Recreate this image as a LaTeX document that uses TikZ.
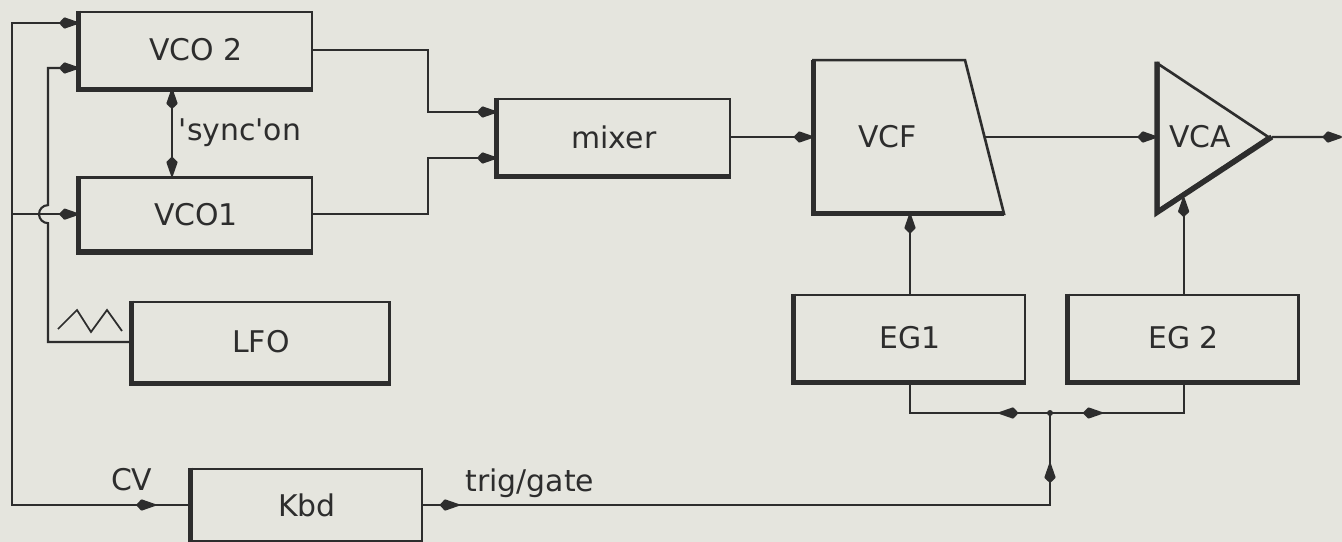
\documentclass[tikz,border=0pt]{standalone}
\usepackage{fontspec}
\setmainfont{DejaVu Sans}
\usepackage{xcolor}
\usepackage{tikz}
\usetikzlibrary{arrows.meta,positioning,shapes.geometric,calc,decorations.markings}

\definecolor{paper}{RGB}{229,229,222}
\definecolor{ink}{RGB}{45,45,45}

\begin{document}
\begin{tikzpicture}[
  x=0.2mm, y=-0.2mm,
  font=\fontsize{17}{20}\selectfont, text=ink,
  >={Kite[length=4.4mm,width=2.3mm,inset=1.1mm,round]},
  outline/.style={draw=ink, line width=1.5pt},
  box/.style={outline, fill=paper, align=center, minimum width=46.4mm, minimum height=15.2mm},
  heavy/.style={draw=ink, line width=3pt},
  wire/.style={draw=ink, line width=1.2pt},
  arrow/.style={wire, ->},
  midarrow/.style={postaction={decorate, decoration={markings, mark=at position #1 with {\arrow{>}}}}},
  backarrow/.style={postaction={decorate, decoration={markings, mark=at position #1 with {\arrowreversed{>}}}}}
]
\fill[paper] (0,0) rectangle (1342,542);
\useasboundingbox (0,0) rectangle (1342,542);

\node[box] (vco2) at (196,50) {VCO 2};
\node[box, minimum height=14.6mm, below=17.4mm of vco2] (vco1) {VCO1};
\node[box, minimum width=51.4mm, minimum height=16mm] (lfo) at (261,342) {LFO};
\node[box, minimum width=46mm, minimum height=14.4mm] (kbd) at (307,505) {Kbd};
\node[box] (mixer) at (614,137) {mixer};
\node[inner sep=0pt, minimum width=38mm, minimum height=30.6mm, right=16.4mm of mixer] (vcf) {\hspace*{-8.4mm}VCF};
\node[isosceles triangle, outline, fill=paper, isosceles triangle stretches,
  minimum width=29.2mm, minimum height=22mm, inner sep=0pt, anchor=west] (vca) at (1157,137) {VCA};
\node[box, minimum width=46mm, minimum height=17.2mm] (eg1) at (910,338) {EG1};
\node[box, minimum width=46mm, minimum height=17.2mm, right=8.2mm of eg1] (eg2) {EG 2};

\coordinate (cvc) at (12,505);
\coordinate (in2a) at ([yshift=5.4mm]vco2.west);
\coordinate (in2b) at ([yshift=-3.6mm]vco2.west);
\coordinate (lfoc) at (48,342);
\coordinate (tg) at (1050,413);
\coordinate (out) at (1342,137);
\coordinate (vcfout) at ([xshift=-3.9mm]vcf.east);
\coordinate (vcacv) at ($(vca.right corner)!.2!(vca.apex)$);

\draw[outline] (vcf.north west) -- ([xshift=-7.8mm]vcf.north east) -- (vcf.south east) -- (vcf.south west) -- cycle;
\foreach \n in {vco2,vco1,lfo,kbd,mixer,eg1,eg2,vcf}
  \draw[heavy] (\n.north west) -- (\n.south west) -- (\n.south east);
\draw[heavy] (vca.left corner) -- (vca.right corner) -- (vca.apex);

\draw[arrow, backarrow=.048] (kbd.west) -- node[above, pos=.33, yshift=1.4mm]{CV} (cvc) |- (in2a);
\draw[arrow] (cvc |- vco1.west) -- (vco1.west);
\draw[arrow] (lfo.west) -- (lfoc) -- ($(lfoc |- vco1.west)+(0,9)$) arc[start angle=90, end angle=270, radius=9] -- (lfoc |- in2b) -- (in2b);
\draw[wire, line width=1pt] (58,329) -- (77,310) -- (91,332) -- (107,310) -- (122,331);
\draw[wire, <->] ([xshift=-4.8mm]vco2.south) -- node[right]{\textquotesingle sync\textquotesingle on} ([xshift=-4.8mm]vco1.north);

\draw[arrow] (vco2.east) -- ++(115,0) |- ([yshift=5mm]mixer.west);
\draw[arrow] (vco1.east) -- ++(115,0) |- ([yshift=-4.2mm]mixer.west);
\draw[arrow] (mixer.east) -- (vcf.west);
\draw[arrow] (vcfout) -- (vca.west);
\draw[arrow] (vca.apex) -- (out);
\draw[arrow] (eg1.north) -- (eg1.north |- vcf.south);
\draw[arrow] (eg2.north) -- (eg2.north |- vcacv);

\draw[wire, midarrow=.05, midarrow=.93] (kbd.east) -- node[above, pos=.17]{trig/gate} (kbd.east -| tg) -- (tg);
\draw[wire, midarrow=.3] (tg) -| (eg1.south);
\draw[wire, midarrow=.32] (tg) -| (eg2.south);
\fill[ink] (tg) circle[radius=3];
\end{tikzpicture}
\end{document}
